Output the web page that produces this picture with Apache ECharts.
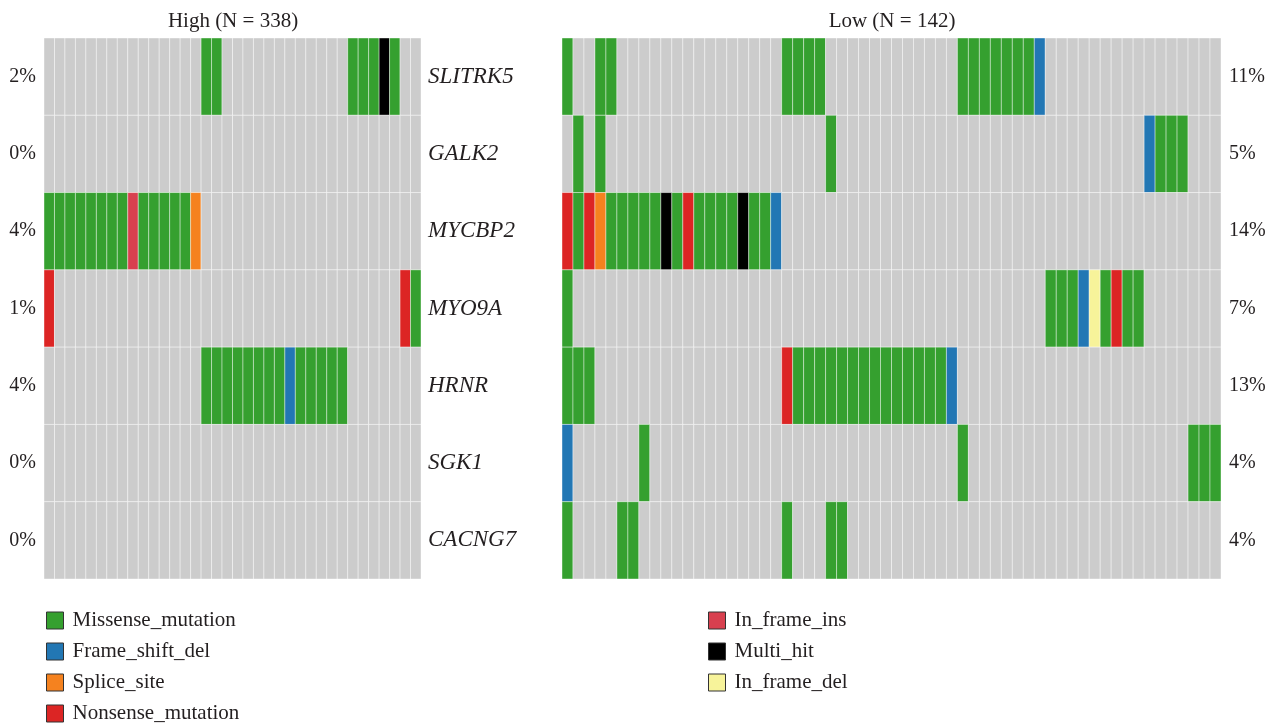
<!DOCTYPE html>
<html>
<head>
<meta charset="utf-8">
<script src="https://cdn.jsdelivr.net/npm/echarts@6/dist/echarts.min.js"></script>
<style>
html, body { margin: 0; padding: 0; background: #fff; }
#main { width: 1276px; height: 725px; }
</style>
</head>
<body>
<div id="main"></div>
<script>
var genes = ['SLITRK5', 'GALK2', 'MYCBP2', 'MYO9A', 'HRNR', 'SGK1', 'CACNG7'];
var highPct = ['2%', '0%', '4%', '1%', '4%', '0%', '0%'];
var lowPct = ['11%', '5%', '14%', '7%', '13%', '4%', '4%'];
var highTitle = 'High (N = 338)';
var lowTitle = 'Low (N = 142)';

// one char per sample (spaces only group by 10):
// . none, M missense, F frame_shift_del, S splice_site, N nonsense, I in_frame_ins, X multi_hit, D in_frame_del
var highRows = [
    '.......... .....MM... .........M MMXM..',
    '.......... .......... .......... ......',
    'MMMMMMMMIM MMMMS..... .......... ......',
    'N......... .......... .......... ....NM',
    '.......... .....MMMMM MMMFMMMMM. ......',
    '.......... .......... .......... ......',
    '.......... .......... .......... ......'
];
var lowRows = [
    'M..MM..... .......... MMMM...... ......MMMM MMMF...... ..........',
    '.M.M...... .......... ....M..... .......... .......... ...FMMM...',
    'NMNSMMMMMX MNMMMMXMMF .......... .......... .......... ..........',
    'M......... .......... .......... .......... ....MMMFDM NMM.......',
    'MMM....... .......... NMMMMMMMMM MMMMMF.... .......... ..........',
    'F......M.. .......... .......... ......M... .......... .......MMM',
    'M....MM... .......... M...MM.... .......... .......... ..........'
];

var mutCodes = ['M', 'F', 'S', 'N', 'I', 'X', 'D'];
var mutNames = ['Missense_mutation', 'Frame_shift_del', 'Splice_site', 'Nonsense_mutation',
                'In_frame_ins', 'Multi_hit', 'In_frame_del'];
var mutColors = ['#35a02f', '#2277b4', '#f5821f', '#dc2524', '#d8404f', '#000000', '#f7f39a'];

var textColor = '#231f20';
var fontFam = '"Liberation Serif", "DejaVu Serif", serif';

function buildCells(rows) {
    var out = [];
    for (var r = 0; r < rows.length; r++) {
        var s = rows[r].replace(/ /g, '');
        for (var c = 0; c < s.length; c++) {
            out.push([c, r, mutCodes.indexOf(s[c]) + 1]);
        }
    }
    return out;
}

function sampleIds(rows) {
    var n = rows[0].replace(/ /g, '').length;
    var ids = [];
    for (var i = 0; i < n; i++) ids.push('s' + i);
    return ids;
}

function renderCell(params, api) {
    var p = api.coord([api.value(0), api.value(1)]);
    var s = api.size([1, 1]);
    var k = api.value(2);
    return {
        type: 'rect',
        shape: { x: p[0] - s[0] / 2, y: p[1] - s[1] / 2, width: s[0], height: s[1] },
        style: {
            fill: k ? mutColors[k - 1] : '#cccccc',
            stroke: 'rgba(255,255,255,0.4)',
            lineWidth: 1
        }
    };
}

function catY(gridIndex, position, formatter, italic) {
    return {
        type: 'category', gridIndex: gridIndex, position: position, inverse: true,
        data: genes,
        axisLine: { show: false }, axisTick: { show: false }, splitLine: { show: false },
        axisLabel: {
            margin: italic ? 7 : 8, color: textColor, fontFamily: fontFam, fontSize: italic ? 23 : 20,
            fontStyle: italic ? 'italic' : 'normal', align: position == 'left' ? 'right' : 'left',
            formatter: formatter
        }
    };
}

var myChart = echarts.init(document.getElementById('main'));

var series = [
    { type: 'custom', xAxisIndex: 0, yAxisIndex: 0, renderItem: renderCell,
      encode: { x: 0, y: 1 }, data: buildCells(highRows), silent: true },
    { type: 'custom', xAxisIndex: 1, yAxisIndex: 2, renderItem: renderCell,
      encode: { x: 0, y: 1 }, data: buildCells(lowRows), silent: true }
];
// empty series only feed the legend
for (var i = 0; i < mutNames.length; i++) {
    series.push({ type: 'custom', name: mutNames[i], renderItem: renderCell, data: [],
                  itemStyle: { color: mutColors[i] } });
}

var legendBase = {
    orient: 'vertical', top: 610, height: 115, padding: 0,
    itemWidth: 17, itemHeight: 17, itemGap: 10,
    icon: 'rect', selectedMode: false,
    itemStyle: { borderColor: '#333', borderWidth: 1 },
    textStyle: { color: textColor, fontFamily: fontFam, fontSize: 21, padding: [0, 0, 0, 4] }
};

var titleStyle = { color: textColor, fontFamily: fontFam, fontSize: 21, fontWeight: 'normal' };

var option = {
    animation: false,
    title: [
        { text: highTitle, left: 228, top: 6, textAlign: 'center', textStyle: titleStyle },
        { text: lowTitle, left: 887, top: 6, textAlign: 'center', textStyle: titleStyle }
    ],
    grid: [
        { left: 44, top: 38, width: 377, height: 541 },
        { left: 562, top: 38, width: 659, height: 541 }
    ],
    xAxis: [
        { type: 'category', gridIndex: 0, data: sampleIds(highRows), show: false },
        { type: 'category', gridIndex: 1, data: sampleIds(lowRows), show: false }
    ],
    yAxis: [
        catY(0, 'left', function (v, i) { return highPct[i]; }, false),
        catY(0, 'right', null, true),
        catY(1, 'right', function (v, i) { return lowPct[i]; }, false)
    ],
    legend: [
        Object.assign({}, legendBase, { left: 46, data: mutNames.slice(0, 4) }),
        Object.assign({}, legendBase, { left: 708, data: mutNames.slice(4) })
    ],
    series: series
};

myChart.setOption(option);
</script>
</body>
</html>
